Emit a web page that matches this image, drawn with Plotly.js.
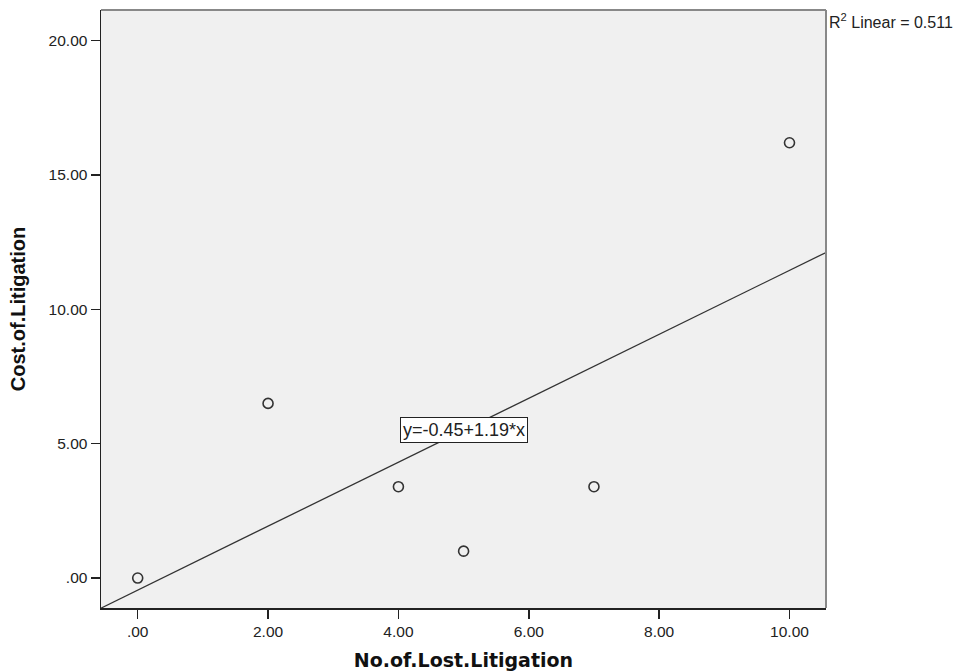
<!DOCTYPE html>
<html><head><meta charset="utf-8">
<script src="https://cdn.plot.ly/plotly-3.0.1.min.js"></script>
<style>html,body{margin:0;padding:0;background:#fff}</style>
</head><body><div id="chart" style="width:960px;height:672px"></div>
<script>
const lostLitigation = [0, 2, 4, 5, 7, 10];
const costLitigation = [0, 6.5, 3.4, 1.0, 3.4, 16.2];
const fitIntercept = -0.45;
const fitSlope = 1.19;
const xTicks = [0, 2, 4, 6, 8, 10];
const xTickLabels = ['.00', '2.00', '4.00', '6.00', '8.00', '10.00'];
const yTicks = [0, 5, 10, 15, 20];
const yTickLabels = ['.00', '5.00', '10.00', '15.00', '20.00'];
const xRange = [-0.563, 10.56];
const yRange = [-1.115, 21.14];

const fitX = xRange.slice();
const fitY = fitX.map(x => fitIntercept + fitSlope * x);

const traces = [
  {x: fitX, y: fitY, mode: 'lines', line: {color: '#333', width: 1.3}, hoverinfo: 'skip'},
  {x: lostLitigation, y: costLitigation, mode: 'markers',
   marker: {symbol: 'circle-open', size: 10, color: '#333', line: {width: 1.6, color: '#333'}}}
];
const fam = 'Liberation Sans, Arial, sans-serif';
const layout = {
  width: 960, height: 672, showlegend: false,
  margin: {l: 101, r: 133.5, t: 9.5, b: 64},
  paper_bgcolor: '#fff', plot_bgcolor: '#f0f0f0',
  font: {family: fam, color: '#222'},
  xaxis: {range: xRange, tickvals: xTicks, ticktext: xTickLabels, ticks: 'outside', ticklen: 9, tickwidth: 1.5, tickcolor: '#222',
    showgrid: false, zeroline: false, showline: true, linecolor: '#222', linewidth: 1.5,
    tickfont: {size: 15.5, family: fam, color: '#222'},
    title: {text: '<b>No.of.Lost.Litigation</b>', font: {size: 19, family: 'DejaVu Sans, sans-serif', color: '#111'}, standoff: 14}},
  yaxis: {range: yRange, tickvals: yTicks, ticktext: yTickLabels, ticks: 'outside', ticklen: 9, tickwidth: 1.5, tickcolor: '#222',
    showgrid: false, zeroline: false, showline: true, linecolor: '#222', linewidth: 1.5,
    tickfont: {size: 15.5, family: fam, color: '#222'},
    title: {text: '<b>Cost.of.Litigation</b>', font: {size: 20, family: fam, color: '#111'}, standoff: 17}},
  shapes: [
    {type: 'line', xref: 'paper', yref: 'paper', x0: 0, x1: 1, y0: 1, y1: 1, line: {color: '#888', width: 2}},
    {type: 'line', xref: 'paper', yref: 'paper', x0: 1, x1: 1, y0: 0, y1: 1, line: {color: '#888', width: 2}}
  ],
  annotations: [
    {x: 5.0, y: 5.5, xref: 'x', yref: 'y', text: 'y=-0.45+1.19*x', showarrow: false,
     bgcolor: '#fff', bordercolor: '#222', borderwidth: 1, borderpad: 2,
     font: {size: 18, family: fam, color: '#222'}},
    {x: 1.002, y: 0.982, xref: 'paper', yref: 'paper', xanchor: 'left', yanchor: 'middle', showarrow: false,
     text: 'R<sup>2</sup> Linear = 0.511', font: {size: 16, family: fam, color: '#222'}}
  ]
};
Plotly.newPlot('chart', traces, layout, {displayModeBar: false, staticPlot: true});
</script></body></html>
